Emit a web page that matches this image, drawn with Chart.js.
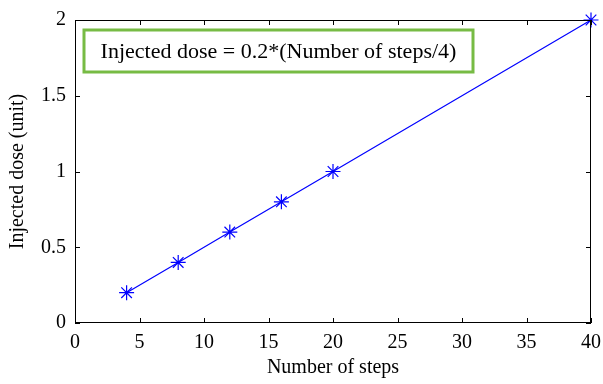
<!DOCTYPE html>
<html>
<head>
<meta charset="utf-8">
<script src="https://cdn.jsdelivr.net/npm/chart.js@4/dist/chart.umd.min.js"></script>
<style>
  html, body { margin: 0; padding: 0; background: #fff; }
  #wrap { width: 603px; height: 384px; }
</style>
</head>
<body>
<div id="wrap"><canvas id="myChart" width="603" height="384"></canvas></div>
<script>
var steps = [4, 8, 12, 16, 20, 40];
var dose = [0.2, 0.4, 0.6, 0.8, 1.0, 2.0];
var xTicks = [0, 5, 10, 15, 20, 25, 30, 35, 40];
var yTicks = [0, 0.5, 1, 1.5, 2];
var noteText = 'Injected dose = 0.2*(Number of steps/4)';

var serif = '"Liberation Serif", "Times New Roman", serif';

// box round the axes plus inward ticks on all four sides, MATLAB style
var boxPlugin = {
    id: 'box',
    afterDraw: function(chart) {
        var c = chart.ctx, a = chart.chartArea;
        var xs = chart.scales.x, ys = chart.scales.y;
        c.save();
        c.strokeStyle = '#000';
        c.lineWidth = 1;
        c.strokeRect(a.left + 0.5, a.top + 0.5, a.right - a.left - 1, a.bottom - a.top - 1);
        c.beginPath();
        xTicks.forEach(function(v) {
            var px = Math.round(xs.getPixelForValue(v)) + 0.5;
            c.moveTo(px, a.bottom); c.lineTo(px, a.bottom - 5);
            c.moveTo(px, a.top); c.lineTo(px, a.top + 5);
        });
        yTicks.forEach(function(v) {
            var py = Math.round(ys.getPixelForValue(v)) + 0.5;
            c.moveTo(a.left, py); c.lineTo(a.left + 5, py);
            c.moveTo(a.right, py); c.lineTo(a.right - 5, py);
        });
        c.stroke();

        // annotation box
        var bx = a.left + 9, by = a.top + 10, bw = 389, bh = 42;
        c.strokeStyle = '#77bb44';
        c.lineWidth = 3;
        c.strokeRect(bx, by, bw, bh);
        c.fillStyle = '#000';
        c.font = '22px ' + serif;
        c.textBaseline = 'middle';
        c.textAlign = 'center';
        c.fillText(noteText, bx + bw / 2, by + bh / 2 + 1);
        c.restore();
    }
};

var ctx = document.getElementById('myChart').getContext('2d');
var myChart = new Chart(ctx, {
    type: 'line',
    data: {
        datasets: [{
            label: 'Injected dose',
            data: steps.map(function(s, i) { return { x: s, y: dose[i] }; }),
            borderColor: '#0000ff',
            backgroundColor: '#0000ff',
            borderWidth: 1.2,
            pointStyle: 'star',
            pointRadius: 7.5,
            pointBorderWidth: 1.2,
            pointBorderColor: '#0000ff',
            fill: false,
            clip: false,
            tension: 0
        }]
    },
    options: {
        responsive: false,
        animation: false,
        layout: { padding: { left: 2, right: 12, top: 20, bottom: 0 } },
        plugins: {
            legend: { display: false },
            tooltip: { enabled: false }
        },
        scales: {
            x: {
                type: 'linear',
                min: 0,
                max: 40,
                afterBuildTicks: function(s) { s.ticks = xTicks.map(function(v) { return { value: v }; }); },
                afterFit: function(s) { s.height = 61; s.paddingLeft = 0; s.paddingRight = 0; },
                grid: { display: false, drawTicks: false },
                border: { display: false },
                ticks: { color: '#000', font: { family: serif, size: 20 }, padding: 8, maxRotation: 0,
                         callback: function(v) { return String(v); } },
                title: { display: true, text: 'Number of steps', color: '#000', font: { family: serif, size: 20 }, padding: { top: 0 } }
            },
            y: {
                type: 'linear',
                min: 0,
                max: 2,
                afterBuildTicks: function(s) { s.ticks = yTicks.map(function(v) { return { value: v }; }); },
                afterFit: function(s) { s.width = 73; s.paddingTop = 0; s.paddingBottom = 0; },
                grid: { display: false, drawTicks: false },
                border: { display: false },
                ticks: { color: '#000', font: { family: serif, size: 20 }, padding: 9,
                         callback: function(v) { return String(v); } },
                title: { display: true, text: 'Injected dose (unit)', color: '#000', font: { family: serif, size: 20 }, padding: { bottom: 0 } }
            }
        }
    },
    plugins: [boxPlugin]
});
</script>
</body>
</html>
